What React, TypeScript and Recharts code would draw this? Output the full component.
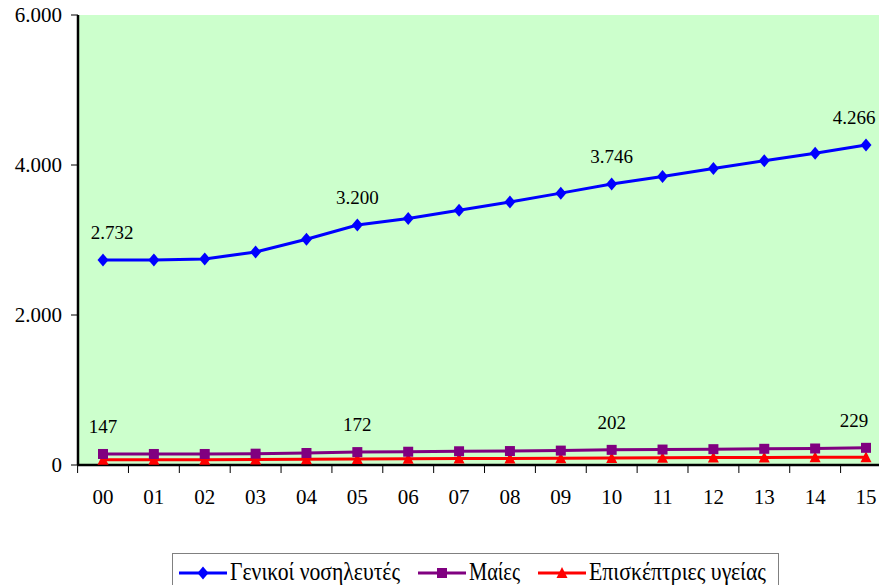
import React from "react";
import {
  LineChart,
  Line,
  XAxis,
  YAxis,
  CartesianGrid,
  Legend,
  LabelList,
} from "recharts";

// years 2000-2015, two-digit labels as in the source
const years = ["00", "01", "02", "03", "04", "05", "06", "07", "08", "09", "10", "11", "12", "13", "14", "15"];
const nurses = [2732, 2735, 2748, 2840, 3010, 3200, 3288, 3398, 3508, 3625, 3746, 3848, 3953, 4056, 4158, 4266];
const midwives = [147, 147, 147, 151, 160, 172, 177, 183, 186, 192, 202, 206, 211, 216, 220, 229];
const visitors = [70, 70, 71, 73, 76, 80, 83, 86, 88, 90, 93, 96, 99, 101, 103, 105];
const yTicks = [0, 2000, 4000, 6000];
const labelled = [0, 5, 10, 15];

const seriesNames = {
  nurses: "Γενικοί νοσηλευτές",
  midwives: "Μαίες",
  visitors: "Επισκέπτριες υγείας",
};

const data = years.map((year, i) => ({
  year,
  nurses: nurses[i],
  midwives: midwives[i],
  visitors: visitors[i],
}));

const FONT = "'Liberation Serif', 'Times New Roman', serif";

const fmt = (v: number) => String(v).replace(/\B(?=(\d{3})+(?!\d))/g, ".");

const Diamond = ({ cx, cy, fill }: any) =>
  cx == null ? null : (
    <polygon points={`${cx},${cy - 6.5} ${cx + 5.5},${cy} ${cx},${cy + 6.5} ${cx - 5.5},${cy}`} fill={fill} />
  );
const Square = ({ cx, cy, fill }: any) =>
  cx == null ? null : <rect x={cx - 5} y={cy - 5} width={10} height={10} fill={fill} />;
const Triangle = ({ cx, cy, fill }: any) =>
  cx == null ? null : (
    <polygon points={`${cx},${cy - 6} ${cx + 5.5},${cy + 5} ${cx - 5.5},${cy + 5}`} fill={fill} />
  );

// Excel nudges the first and last labels a little
const makeLabel = (firstDx: number) => (props: any) => {
  const { x, y, value, index } = props;
  if (!labelled.includes(index)) return null;
  let dx = 0;
  if (index === 0) dx = firstDx;
  if (index === years.length - 1) dx = -12;
  return (
    <text x={x + dx} y={y - 21} textAnchor="middle" fontSize={19} fontFamily={FONT} fill="#000">
      {fmt(value)}
    </text>
  );
};

// category labels centred, tick marks between categories
const XTick = (props: any) => {
  const { x, y, payload, width, visibleTicksCount } = props;
  const bw = width / visibleTicksCount;
  return (
    <g>
      <line x1={x - bw / 2} x2={x - bw / 2} y1={y} y2={y + 8} stroke="#000" strokeWidth={1} />
      <text x={x} y={y + 39} textAnchor="middle" fontSize={21} fontFamily={FONT} fill="#000">
        {payload.value}
      </text>
    </g>
  );
};

const legendItems = [
  { name: seriesNames.nurses, color: "#0000FF", Shape: Diamond, textWidth: 170 },
  { name: seriesNames.midwives, color: "#800080", Shape: Square, textWidth: 51 },
  { name: seriesNames.visitors, color: "#FF0000", Shape: Triangle, textWidth: 177 },
];

const LegendBox = () => (
  <div
    style={{
      border: "1px solid #808080",
      background: "#fff",
      display: "flex",
      alignItems: "flex-start",
      height: 40,
      paddingLeft: 6,
      boxSizing: "border-box",
    }}
  >
    {legendItems.map((it, i) => (
      <svg
        key={it.name}
        width={51 + it.textWidth}
        height={38}
        style={{ display: "block", marginLeft: i === 0 ? 0 : 18, overflow: "visible" }}
      >
        <line x1={0} x2={48} y1={19} y2={19} stroke={it.color} strokeWidth={3} />
        <it.Shape cx={24} cy={19} fill={it.color} />
        <text
          x={51}
          y={26}
          fontSize={26}
          fontFamily={FONT}
          fill="#000"
          textLength={it.textWidth}
          lengthAdjust="spacingAndGlyphs"
        >
          {it.name}
        </text>
      </svg>
    ))}
  </div>
);

export default function App() {
  return (
    <div style={{ position: "absolute", left: 0, top: 0, width: 879, height: 585, overflow: "hidden", background: "#fff" }}>
      <LineChart
        width={891}
        height={585}
        data={data}
        margin={{ top: 15, right: 0, bottom: 80, left: 0 }}
      >
        <CartesianGrid
          horizontal={false}
          vertical={false}
          stroke="none"
          fill="#CCFFCC"
          fillOpacity={1}
        />
        {/* top frame line of the plot area */}
        <XAxis
          xAxisId="top"
          orientation="top"
          dataKey="year"
          height={0}
          tick={false}
          tickLine={false}
          axisLine={{ stroke: "#000", strokeWidth: 2.5 }}
        />
        <XAxis
          dataKey="year"
          height={40}
          padding={{ left: 25, right: 25 }}
          tickSize={0}
          tickMargin={0}
          tickLine={false}
          axisLine={{ stroke: "#000", strokeWidth: 2.5 }}
          tick={<XTick />}
          interval={0}
        />
        <YAxis
          width={78}
          domain={[0, 6000]}
          ticks={yTicks}
          tickFormatter={fmt}
          tickSize={7}
          tickMargin={9}
          axisLine={{ stroke: "#000", strokeWidth: 2.5 }}
          tickLine={{ stroke: "#000" }}
          tick={{ fontSize: 21, fontFamily: FONT, fill: "#000" }}
        />
        <Legend
          layout="horizontal"
          verticalAlign="middle"
          align="center"
          wrapperStyle={{ top: 553, left: 172, width: 607 }}
          content={<LegendBox />}
        />
        <Line
          dataKey="visitors"
          name={seriesNames.visitors}
          stroke="#FF0000"
          strokeWidth={3}
          dot={<Triangle fill="#FF0000" />}
          isAnimationActive={false}
        />
        <Line
          dataKey="midwives"
          name={seriesNames.midwives}
          stroke="#800080"
          strokeWidth={3}
          dot={<Square fill="#800080" />}
          isAnimationActive={false}
        >
          <LabelList dataKey="midwives" content={makeLabel(0)} />
        </Line>
        <Line
          dataKey="nurses"
          name={seriesNames.nurses}
          stroke="#0000FF"
          strokeWidth={3}
          dot={<Diamond fill="#0000FF" />}
          isAnimationActive={false}
        >
          <LabelList dataKey="nurses" content={makeLabel(9)} />
        </Line>
      </LineChart>
    </div>
  );
}
